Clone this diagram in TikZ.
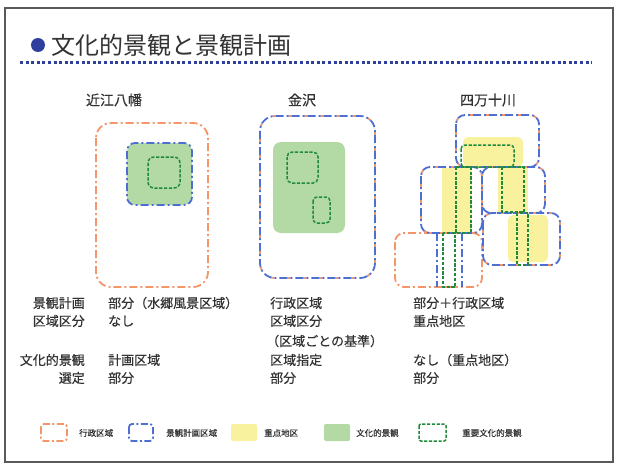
\documentclass[tikz,border=0pt]{standalone}
\usepackage{fontspec}
\setmainfont{Noto Sans CJK JP}
\newfontfamily\medfont{Noto Sans CJK JP}[FakeBold=0.35]
\definecolor{orng}{HTML}{F4956A}
\definecolor{blu}{HTML}{4D6FD1}
\definecolor{grnfill}{HTML}{B3D9A5}
\definecolor{grnline}{HTML}{1F8A3B}
\definecolor{ylw}{HTML}{F8F19E}
\definecolor{txt}{HTML}{333333}
\definecolor{titleblue}{HTML}{2E3F9E}
\tikzset{
  admin/.style={draw=orng, line width=1.8pt, dash pattern=on 8pt off 3pt on 2pt off 3pt},
  planb/.style={draw=blu, line width=1.8pt, dash pattern=on 8pt off 3pt on 2pt off 3pt},
  planbo/.style={draw=orng, line width=1.8pt, dash pattern=on 3pt off 13pt, dash phase=8pt},
  imp/.style={draw=grnline, line width=1.5pt, dash pattern=on 3.2pt off 1.6pt},
  body/.style={text=txt, font=\medfont\fontsize{13}{15}\selectfont, inner sep=0pt},
  head/.style={text=txt, font=\medfont\fontsize{14}{16}\selectfont, inner sep=0pt},
  leg/.style={text=txt, font=\medfont\fontsize{8.5}{10}\selectfont, inner sep=0pt, anchor=west},
}
\newcommand\combobox[3][8pt]{%
  \draw[planbo, rounded corners=#1] #2 rectangle #3;
  \draw[planb, rounded corners=#1] #2 rectangle #3;}
\begin{document}
\begin{tikzpicture}[x=1pt, y=-1pt]
\useasboundingbox (0,0) rectangle (619,466);
\fill[white] (0,0) rectangle (619,466);
% frame
\draw[gray!70!black, line width=1.2pt] (5,8) rectangle (613,462);
% title
\fill[titleblue] (38,45) circle (7pt);
\node[anchor=west, text=txt, font=\fontsize{24}{26}\selectfont, inner sep=0pt] (title) at (51,45) {文化的景観と景観計画};
\draw[titleblue, line width=3pt, dash pattern=on 3pt off 2.6pt] (20,62) -- (592,62);

% headings
\node[head] (h1) at (114,100) {近江八幡};
\node[head] (h2) at (302,100) {金沢};
\node[head] (h3) at (488,100) {四万十川};

% ---------- Omihachiman
\draw[admin, rounded corners=15pt] (96,123) rectangle (208,287);
\fill[grnfill, rounded corners=8pt] (127,143) rectangle (192,205);
\draw[planb, rounded corners=8pt] (127,143) rectangle (192,205);
\draw[imp, rounded corners=6pt] (148,157) rectangle (180,188);

% ---------- Kanazawa
\combobox[15pt]{(260,116)}{(375,278)}
\fill[grnfill, rounded corners=8pt] (273,142) rectangle (345,233);
\draw[imp, rounded corners=5pt] (287,152) rectangle (318,183);
\draw[imp, rounded corners=4pt] (313,197) rectangle (330,223);

% ---------- Shimanto
\fill[ylw, rounded corners=6pt] (463,137) rectangle (523,167);
\fill[ylw] (442,168) rectangle (472,232);
\fill[ylw] (498,167) rectangle (528,212);
\fill[ylw, rounded corners=5pt] (508,215) rectangle (548,262);
% boxes
\draw[admin, rounded corners=9pt] (395,233) rectangle (482,287);
\draw[planb] (437,233) -- (437,287);
\draw[planb] (462,233) -- (462,287);
\combobox[9pt]{(456,115)}{(539,167)}
\combobox[9pt]{(421,167)}{(482,233)}
\combobox[9pt]{(482,167)}{(545,213)}
\combobox[9pt]{(483,213)}{(560,265)}
% important
\draw[imp, rounded corners=4pt] (461,145) rectangle (514,167);
\draw[imp] (456,167) rectangle (471,233);
\draw[imp] (502,167) rectangle (524,212);
\draw[imp] (517,213) rectangle (528,265);
\draw[imp] (443,233) rectangle (455,287);

% ---------- texts
\node[body, anchor=east] (l1) at (85,303) {景観計画};
\node[body, anchor=east] (l2) at (85,321) {区域区分};
\node[body, anchor=east] (l3) at (85,360) {文化的景観};
\node[body, anchor=east] (l4) at (85,378) {選定};

\node[body, anchor=west] (a1) at (108,303) {部分（水郷風景区域）};
\node[body, anchor=west] (a2) at (108,321) {なし};
\node[body, anchor=west] (a3) at (108,360) {計画区域};
\node[body, anchor=west] (a4) at (108,378) {部分};

\node[body, anchor=west] (b1) at (270,303) {行政区域};
\node[body, anchor=west] (b2) at (270,321) {区域区分};
\node[body, anchor=west] (b3) at (266,341) {（区域ごとの基準）};
\node[body, anchor=west] (b4) at (270,360) {区域指定};
\node[body, anchor=west] (b5) at (270,378) {部分};

\node[body, anchor=west] (c1) at (413,303) {部分＋行政区域};
\node[body, anchor=west] (c2) at (413,321) {重点地区};
\node[body, anchor=west] (c3) at (413,360) {なし（重点地区）};
\node[body, anchor=west] (c4) at (413,378) {部分};

% ---------- legend
\draw[admin, rounded corners=3pt, dash pattern=on 7pt off 2.5pt on 2pt off 2.5pt] (41,424) rectangle (67,441);
\node[leg] (t1) at (79,433) {行政区域};
\draw[planb, rounded corners=3pt, dash pattern=on 7pt off 2.5pt on 2pt off 2.5pt] (129,424) rectangle (153,441);
\node[leg] (t2) at (166,433) {景観計画区域};
\fill[ylw, rounded corners=2pt] (231,424) rectangle (257,441);
\node[leg] (t3) at (264,433) {重点地区};
\fill[grnfill, rounded corners=2pt] (324,424) rectangle (350,441);
\node[leg] (t4) at (356,433) {文化的景観};
\draw[imp, rounded corners=2pt] (419,424) rectangle (446,441);
\node[leg] (t5) at (462,433) {重要文化的景観};
\end{tikzpicture}
\end{document}
